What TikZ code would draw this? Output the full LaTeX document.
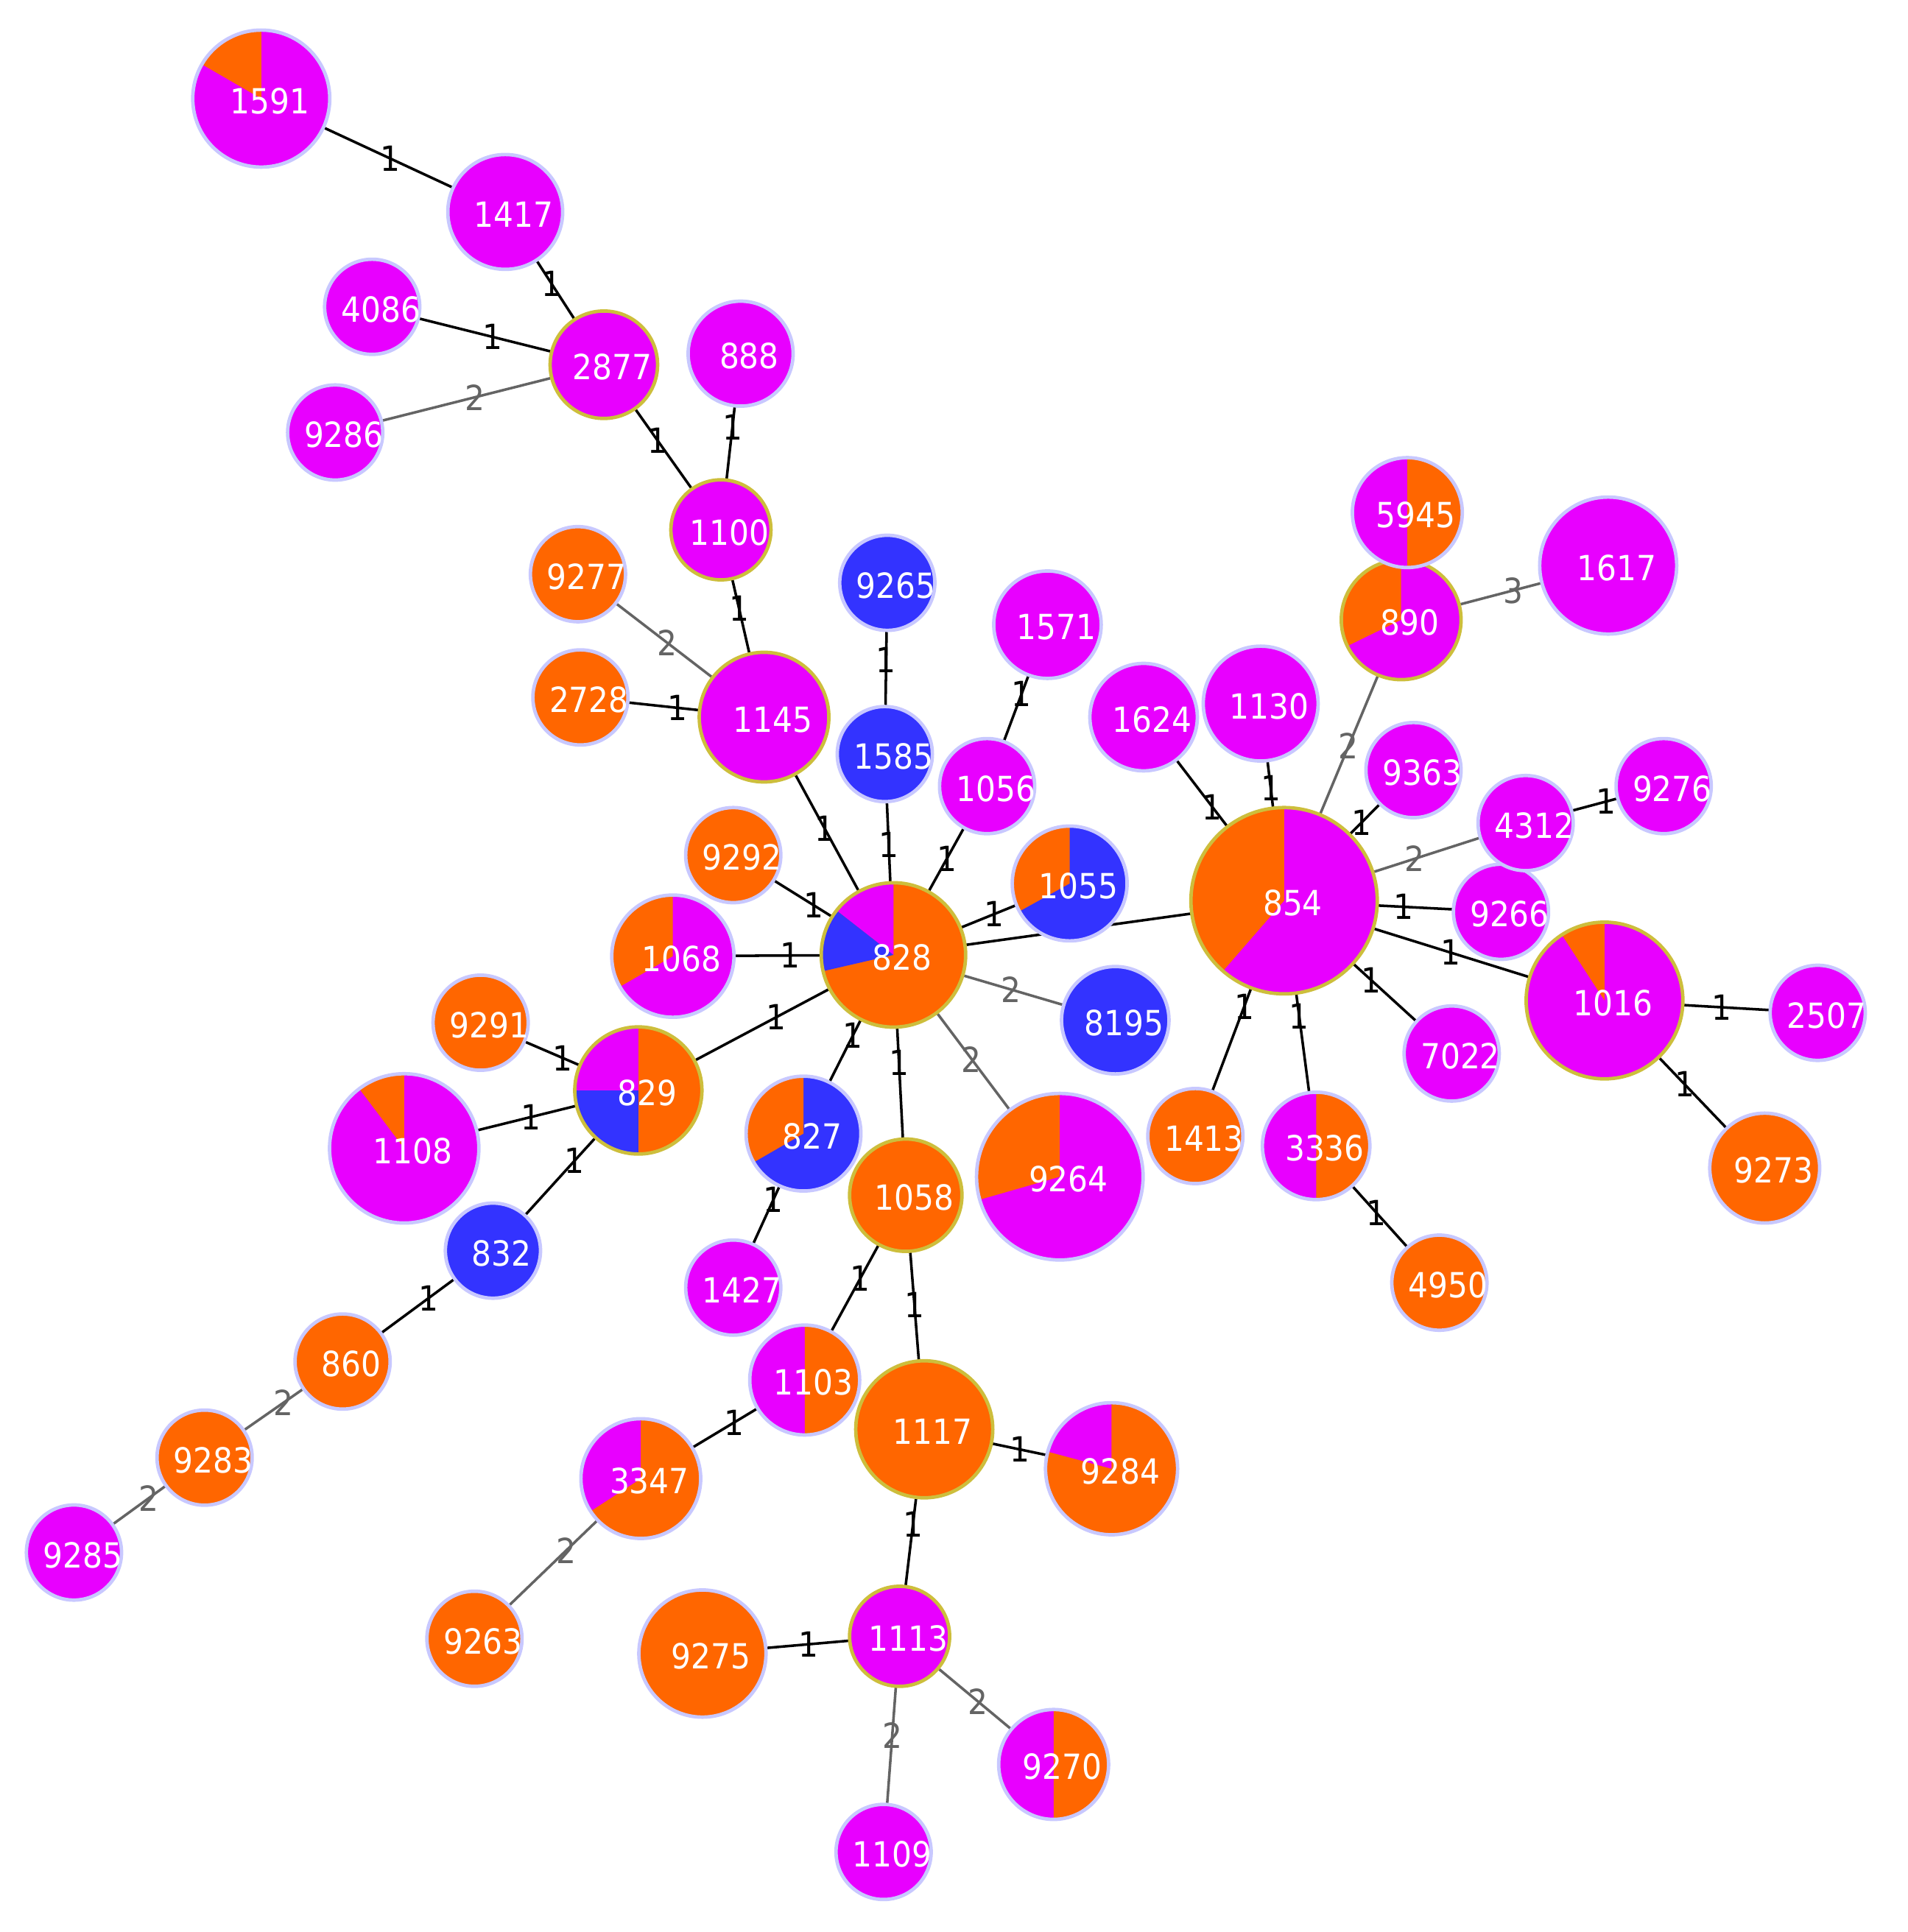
\documentclass[tikz,border=0pt]{standalone}
\usepackage{fontspec}
\setmainfont{DejaVu Sans}[FakeStretch=0.9]
\usetikzlibrary{backgrounds}
\definecolor{mag}{RGB}{232,0,255}
\definecolor{org}{RGB}{255,102,0}
\definecolor{blu}{RGB}{51,51,255}
\definecolor{lav}{RGB}{200,200,255}
\definecolor{olv}{RGB}{205,190,60}
\definecolor{egray}{RGB}{100,100,100}
\newcommand\nodefont{\fontsize{8}{9}\selectfont}
\tikzset{
  gn/.style={circle, draw=lav, line width=0.8pt, inner sep=0pt, minimum size={#1*0.2mm-0.28mm}},
  hub/.style={draw=olv},
  pie/.style={path picture={\foreach \a/\b/\c in {#1}{\fill[\c] (path picture bounding box.center) -- ++(\a:3cm) arc[start angle=\a,end angle=\b,radius=3cm] -- cycle;}}},
  txt/.style={label={[text=white, font=\nodefont, inner sep=0pt, xshift=0.7mm, yshift=-0.2mm]center:#1}},
  e1/.style={draw=black, line width=0.6pt},
  e2/.style={draw=egray, line width=0.6pt},
  el/.style={font=\nodefont, text=black, inner sep=0pt},
  el2/.style={font=\nodefont, text=egray, inner sep=0pt},
}
\begin{document}
\begin{tikzpicture}[x=0.1mm, y=-0.1mm]
\useasboundingbox (0,0) rectangle (1548,1568);
% ---- nodes ----
\node[gn=57, fill=mag, pie={90/150/org}, txt=1591] (n1591) at (212,80) {};
\node[gn=48, fill=mag, txt=1417] (n1417) at (410,172) {};
\node[gn=40, fill=mag, txt=4086] (n4086) at (302,249) {};
\node[gn=45, hub, fill=mag, txt=2877] (n2877) at (490,296) {};
\node[gn=44, fill=mag, txt=888] (n888) at (601,287) {};
\node[gn=40, fill=mag, txt=9286] (n9286) at (272,351) {};
\node[gn=42, hub, fill=mag, txt=1100] (n1100) at (585,430) {};
\node[gn=40, fill=org, txt=9277] (n9277) at (469,466) {};
\node[gn=40, fill=org, txt=2728] (n2728) at (471,566) {};
\node[gn=54, hub, fill=mag, txt=1145] (n1145) at (620,582) {};
\node[gn=40, fill=blu, txt=9265] (n9265) at (720,473) {};
\node[gn=40, fill=blu, txt=1585] (n1585) at (718,612) {};
\node[gn=45, fill=mag, txt=1571] (n1571) at (850,507) {};
\node[gn=40, fill=mag, txt=1056] (n1056) at (801,638) {};
\node[gn=45, fill=mag, txt=1624] (n1624) at (928,582) {};
\node[gn=48, fill=mag, txt=1130] (n1130) at (1023,571) {};
\node[gn=50, hub, fill=mag, pie={90/206/org}, txt=890] (n890) at (1137,503) {};
\node[gn=46, fill=mag, pie={-90/90/org}, txt=5945] (n5945) at (1142,416) {};
\node[gn=57, fill=mag, txt=1617] (n1617) at (1305,459) {};
\node[gn=40, fill=mag, txt=9363] (n9363) at (1147,625) {};
\node[gn=40, fill=mag, txt=9266] (n9266) at (1218,740) {};
\node[gn=40, fill=mag, txt=4312] (n4312) at (1238,668) {};
\node[gn=40, fill=mag, txt=9276] (n9276) at (1350,638) {};
\node[gn=77, hub, fill=mag, pie={90/229/org}, txt=854] (n854) at (1042,731) {};
\node[gn=65, hub, fill=mag, pie={90/123/org}, txt=1016] (n1016) at (1302,812) {};
\node[gn=40, fill=mag, txt=2507] (n2507) at (1475,822) {};
\node[gn=40, fill=mag, txt=7022] (n7022) at (1178,855) {};
\node[gn=46, fill=org, txt=9273] (n9273) at (1432,948) {};
\node[gn=40, fill=org, txt=1413] (n1413) at (970,922) {};
\node[gn=45, fill=mag, pie={-90/90/org}, txt=3336] (n3336) at (1068,930) {};
\node[gn=40, fill=org, txt=4950] (n4950) at (1168,1041) {};
\node[gn=40, fill=org, txt=9292] (n9292) at (595,694) {};
\node[gn=51, fill=mag, pie={90/210/org}, txt=1068] (n1068) at (546,776) {};
\node[gn=60, hub, fill=org, pie={90/142/mag,142/193/blu}, txt=828] (n828) at (725,775) {};
\node[gn=48, fill=blu, pie={90/209/org}, txt=1055] (n1055) at (868,717) {};
\node[gn=45, fill=blu, txt=8195] (n8195) at (905,828) {};
\node[gn=40, fill=org, txt=9291] (n9291) at (390,830) {};
\node[gn=53, hub, fill=org, pie={90/180/mag,180/270/blu}, txt=829] (n829) at (518,885) {};
\node[gn=62, fill=mag, pie={90/127/org}, txt=1108] (n1108) at (328,932) {};
\node[gn=48, fill=blu, pie={90/210/org}, txt=827] (n827) at (652,920) {};
\node[gn=47, hub, fill=org, txt=1058] (n1058) at (735,970) {};
\node[gn=69, fill=mag, pie={90/196/org}, txt=9264] (n9264) at (860,955) {};
\node[gn=40, fill=blu, txt=832] (n832) at (400,1015) {};
\node[gn=40, fill=mag, txt=1427] (n1427) at (595,1045) {};
\node[gn=40, fill=org, txt=860] (n860) at (278,1105) {};
\node[gn=46, fill=mag, pie={-90/90/org}, txt=1103] (n1103) at (653,1120) {};
\node[gn=57, hub, fill=org, txt=1117] (n1117) at (750,1160) {};
\node[gn=55, fill=org, pie={90/165/mag}, txt=9284] (n9284) at (902,1192) {};
\node[gn=40, fill=org, txt=9283] (n9283) at (166,1183) {};
\node[gn=50, fill=org, pie={90/213/mag}, txt=3347] (n3347) at (520,1200) {};
\node[gn=40, fill=mag, txt=9285] (n9285) at (60,1260) {};
\node[gn=40, fill=org, txt=9263] (n9263) at (385,1330) {};
\node[gn=53, fill=org, txt=9275] (n9275) at (570,1342) {};
\node[gn=42, hub, fill=mag, txt=1113] (n1113) at (730,1328) {};
\node[gn=46, fill=mag, pie={-90/90/org}, txt=9270] (n9270) at (855,1432) {};
\node[gn=40, fill=mag, txt=1109] (n1109) at (717,1503) {};
% ---- edges ----
\begin{scope}[on background layer]
\draw[e1] (n1591.center) -- node[el,pos=0.53]{1} (n1417.center);
\draw[e1] (n1417.center) -- node[el,pos=0.47]{1} (n2877.center);
\draw[e1] (n4086.center) -- node[el,pos=0.52]{1} (n2877.center);
\draw[e2] (n9286.center) -- node[el2,pos=0.52]{2} (n2877.center);
\draw[e1] (n2877.center) -- node[el,pos=0.46]{1} (n1100.center);
\draw[e1] (n888.center) -- node[el,pos=0.42]{1} (n1100.center);
\draw[e1] (n1100.center) -- node[el,pos=0.42]{1} (n1145.center);
\draw[e2] (n9277.center) -- node[el2,pos=0.48]{2} (n1145.center);
\draw[e1] (n2728.center) -- node[el,pos=0.53]{1} (n1145.center);
\draw[e1] (n1145.center) -- node[el,pos=0.47]{1} (n828.center);
\draw[e1] (n9265.center) -- node[el,pos=0.45]{1} (n1585.center);
\draw[e1] (n1585.center) -- node[el,pos=0.45]{1} (n828.center);
\draw[e1] (n1571.center) -- node[el,pos=0.43]{1} (n1056.center);
\draw[e1] (n1056.center) -- node[el,pos=0.43]{1} (n828.center);
\draw[e1] (n9292.center) -- node[el,pos=0.50]{1} (n828.center);
\draw[e1] (n1068.center) -- node[el,pos=0.53]{1} (n828.center);
\draw[e1] (n829.center) -- node[el,pos=0.54]{1} (n828.center);
\draw[e1] (n827.center) -- node[el,pos=0.55]{1} (n828.center);
\draw[e1] (n828.center) -- node[el,pos=0.45]{1} (n1058.center);
\draw[e2] (n828.center) -- node[el2,pos=0.47]{2} (n9264.center);
\draw[e2] (n828.center) -- node[el2,pos=0.53]{2} (n8195.center);
\draw[e1] (n828.center) -- node[el,pos=0.57]{1} (n1055.center);
\draw[e1] (n828.center) -- (n854.center);
\draw[e1] (n1624.center) -- node[el,pos=0.49]{1} (n854.center);
\draw[e1] (n1130.center) -- node[el,pos=0.43]{1} (n854.center);
\draw[e2] (n890.center) -- node[el2,pos=0.45]{2} (n854.center);
\draw[e2] (n890.center) -- node[el2,pos=0.54]{3} (n1617.center);
\draw[e1] (n854.center) -- node[el,pos=0.60]{1} (n9363.center);
\draw[e2] (n854.center) -- node[el2,pos=0.54]{2} (n4312.center);
\draw[e1] (n4312.center) -- node[el,pos=0.58]{1} (n9276.center);
\draw[e1] (n854.center) -- node[el,pos=0.55]{1} (n9266.center);
\draw[e1] (n854.center) -- node[el,pos=0.52]{1} (n1016.center);
\draw[e1] (n1016.center) -- node[el,pos=0.55]{1} (n2507.center);
\draw[e1] (n1016.center) -- node[el,pos=0.50]{1} (n9273.center);
\draw[e1] (n854.center) -- node[el,pos=0.52]{1} (n7022.center);
\draw[e1] (n854.center) -- node[el,pos=0.45]{1} (n1413.center);
\draw[e1] (n854.center) -- node[el,pos=0.47]{1} (n3336.center);
\draw[e1] (n3336.center) -- node[el,pos=0.49]{1} (n4950.center);
\draw[e1] (n9291.center) -- node[el,pos=0.52]{1} (n829.center);
\draw[e1] (n1108.center) -- node[el,pos=0.54]{1} (n829.center);
\draw[e1] (n829.center) -- node[el,pos=0.44]{1} (n832.center);
\draw[e1] (n827.center) -- node[el,pos=0.43]{1} (n1427.center);
\draw[e1] (n832.center) -- node[el,pos=0.43]{1} (n860.center);
\draw[e2] (n860.center) -- node[el2,pos=0.43]{2} (n9283.center);
\draw[e2] (n9283.center) -- node[el2,pos=0.43]{2} (n9285.center);
\draw[e1] (n1058.center) -- node[el,pos=0.45]{1} (n1103.center);
\draw[e1] (n1058.center) -- node[el,pos=0.47]{1} (n1117.center);
\draw[e1] (n1103.center) -- node[el,pos=0.43]{1} (n3347.center);
\draw[e2] (n3347.center) -- node[el2,pos=0.45]{2} (n9263.center);
\draw[e1] (n1117.center) -- node[el,pos=0.51]{1} (n9284.center);
\draw[e1] (n1117.center) -- node[el,pos=0.46]{1} (n1113.center);
\draw[e1] (n1113.center) -- node[el,pos=0.46]{1} (n9275.center);
\draw[e2] (n1113.center) -- node[el2,pos=0.51]{2} (n9270.center);
\draw[e2] (n1113.center) -- node[el2,pos=0.46]{2} (n1109.center);
\end{scope}
\end{tikzpicture}
\end{document}
